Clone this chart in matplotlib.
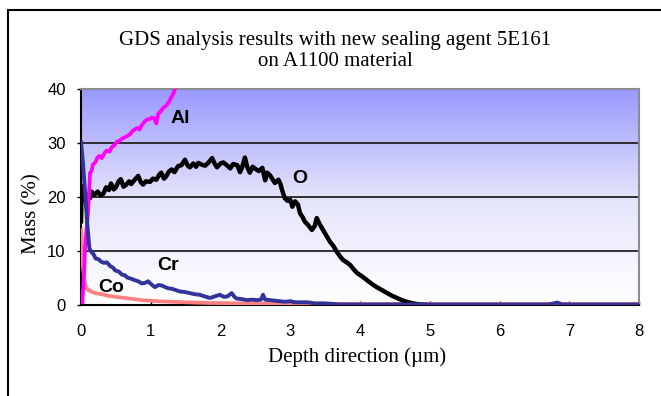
import numpy as np
import matplotlib
matplotlib.use("Agg")
import matplotlib.pyplot as plt
from matplotlib.colors import LinearSegmentedColormap
from matplotlib.patches import Rectangle

# ---- data ----
depth_O = [0.0, 0.01, 0.04, 0.07, 0.1, 0.13, 0.15, 0.19, 0.24, 0.28, 0.32, 0.36, 0.4, 0.43, 0.47,
           0.5, 0.54, 0.57, 0.61, 0.65, 0.69, 0.72, 0.77, 0.82, 0.86, 0.89, 0.93, 0.99, 1.03, 1.08,
           1.12, 1.15, 1.19, 1.22, 1.26, 1.3, 1.34, 1.39, 1.44, 1.49, 1.53, 1.56, 1.61, 1.65, 1.68,
           1.73, 1.78, 1.83, 1.88, 1.92, 1.95, 2.0, 2.04, 2.09, 2.14, 2.18, 2.24, 2.28, 2.31, 2.35,
           2.38, 2.42, 2.46, 2.5, 2.55, 2.6, 2.64, 2.67, 2.71, 2.75, 2.78, 2.83, 2.86, 2.88, 2.92,
           2.96, 3.0, 3.03, 3.07, 3.11, 3.14, 3.18, 3.21, 3.25, 3.31, 3.35, 3.38, 3.42, 3.47, 3.52,
           3.57, 3.62, 3.67, 3.72, 3.76, 3.81, 3.86, 3.91, 3.96, 4.03, 4.1, 4.17, 4.24, 4.31, 4.39,
           4.46, 4.53, 4.6, 4.67, 4.76, 4.85, 4.95]
mass_O = [15.5, 22.0, 20.0, 19.2, 20.5, 19.8, 21.0, 20.4, 21.0, 20.3, 20.6, 21.8, 21.3, 22.5, 21.4,
          21.8, 22.9, 23.3, 21.9, 22.3, 22.9, 22.4, 23.2, 23.9, 22.7, 22.3, 22.9, 22.8, 23.4, 23.2,
          24.1, 24.5, 23.4, 23.8, 24.7, 25.1, 24.6, 25.7, 25.9, 26.9, 25.8, 25.5, 26.2, 25.6, 26.3,
          26.0, 25.8, 26.4, 27.2, 26.1, 25.5, 26.2, 26.4, 25.9, 25.3, 26.1, 25.9, 24.6, 25.5, 27.3,
          25.7, 24.5, 25.6, 25.2, 24.8, 25.4, 23.1, 24.5, 24.0, 23.2, 22.6, 23.2, 22.4, 21.4, 19.8,
          19.3, 19.5, 18.2, 19.2, 18.6, 17.0, 16.2, 15.4, 14.9, 13.9, 14.6, 16.1, 15.0, 13.9, 12.8,
          11.7, 10.9, 9.8, 8.9, 8.3, 7.9, 7.4, 6.6, 5.9, 5.3, 4.6, 3.9, 3.3, 2.8, 2.2,
          1.7, 1.3, 0.9, 0.6, 0.3, 0.1, 0.0]

depth_Cr = [0.0, 0.03, 0.06, 0.09, 0.12, 0.15, 0.18, 0.21, 0.25, 0.29, 0.33, 0.37, 0.42, 0.46, 0.49,
            0.54, 0.59, 0.63, 0.66, 0.71, 0.77, 0.82, 0.87, 0.92, 0.96, 1.01, 1.06, 1.11, 1.16, 1.21,
            1.25, 1.3, 1.35, 1.42, 1.49, 1.56, 1.63, 1.7, 1.77, 1.85, 1.92, 1.99, 2.05, 2.1, 2.16,
            2.2, 2.23, 2.3, 2.38, 2.45, 2.52, 2.58, 2.61, 2.64, 2.71, 2.78, 2.85, 2.92, 3.0, 3.07,
            3.14, 3.25, 3.35, 3.5, 3.7, 4.5, 6.7, 6.83, 6.9, 8.0]
mass_Cr = [30.2, 26.0, 20.5, 15.0, 10.5, 9.8, 9.4, 8.6, 8.5, 8.0, 7.8, 7.9, 7.2, 6.9, 6.4,
           6.2, 5.6, 5.5, 5.1, 4.9, 4.6, 4.4, 4.0, 4.1, 4.4, 3.8, 3.3, 3.7, 3.6, 3.3,
           3.1, 3.0, 2.8, 2.5, 2.4, 2.2, 2.0, 1.9, 1.6, 1.3, 1.6, 1.9, 1.5, 1.6, 2.2,
           1.5, 1.2, 1.1, 0.9, 1.0, 0.9, 1.0, 1.9, 1.0, 0.9, 0.8, 0.7, 0.6, 0.7, 0.5,
           0.5, 0.5, 0.3, 0.3, 0.1, 0.1, 0.1, 0.45, 0.1, 0.1]

depth_Co = [0.0, 0.01, 0.02, 0.03, 0.05, 0.07, 0.1, 0.15, 0.2, 0.3, 0.39, 0.5, 0.63, 0.75, 0.87,
            1.0, 1.1, 1.3, 1.5, 1.75, 2.0, 2.5, 3.0, 4.0, 8.0]
mass_Co = [14.3, 10.0, 8.0, 6.8, 4.5, 3.3, 2.8, 2.5, 2.2, 2.0, 1.7, 1.5, 1.3, 1.1, 0.9,
           0.8, 0.7, 0.6, 0.5, 0.4, 0.35, 0.3, 0.25, 0.2, 0.2]

depth_Al = [0.02, 0.04, 0.06, 0.08, 0.1, 0.12, 0.13, 0.15, 0.17, 0.2, 0.24, 0.27, 0.3, 0.34, 0.37,
            0.41, 0.44, 0.48, 0.51, 0.55, 0.6, 0.65, 0.7, 0.74, 0.77, 0.81, 0.84, 0.87, 0.91, 0.94,
            0.98, 1.01, 1.05, 1.08, 1.11, 1.14, 1.18, 1.22, 1.25, 1.28, 1.3, 1.33, 1.35, 1.38, 1.42]
mass_Al = [0.5, 5.0, 11.0, 14.0, 17.0, 22.0, 24.5, 24.8, 26.0, 26.3, 27.4, 27.6, 27.2, 28.2, 28.6,
           28.4, 29.2, 29.6, 30.2, 30.4, 30.9, 31.2, 31.6, 32.2, 32.5, 32.8, 32.5, 33.3, 33.9, 34.3,
           34.4, 34.7, 34.6, 33.6, 35.5, 35.8, 36.5, 36.9, 37.4, 38.1, 38.6, 39.3, 40.2, 40.5, 41.0]

x_ticks = [0, 1, 2, 3, 4, 5, 6, 7, 8]
y_ticks = [0, 10, 20, 30, 40]

title = "GDS analysis results with new sealing agent 5E161\non A1100 material"

# ---- figure ----
W, H = 661, 396
fig = plt.figure(figsize=(W / 100, H / 100), dpi=100)
fig.patch.set_facecolor("white")

# outer frame (right and bottom edges are cut off in the reference)
fig.patches.append(Rectangle((8 / W, -0.05), 1.1, 1 - 10 / H + 0.05, transform=fig.transFigure,
                             fill=False, edgecolor="black", linewidth=1.5, zorder=0))

ax = fig.add_axes([81 / W, 1 - 305 / H, (639 - 81) / W, (305 - 89) / H])

# gradient background
cmap = LinearSegmentedColormap.from_list("bg", ["#ffffff", "#e4e4fb", "#9999ff"])
grad = np.linspace(0, 1, 256).reshape(-1, 1)
ax.imshow(grad, aspect="auto", cmap=cmap, origin="lower", extent=[0, 8, 0, 40], zorder=0)

for yv in y_ticks[1:-1]:
    ax.axhline(yv, color="#222222", linewidth=1.3, zorder=1)

ax.plot(depth_Co, mass_Co, color="#ff8080", linewidth=2.7, zorder=3, solid_capstyle="butt")
ax.plot(depth_O, mass_O, color="black", linewidth=3.2, zorder=4)
ax.plot(depth_Al, mass_Al, color="#ff00ff", linewidth=2.7, zorder=5)
ax.plot(depth_Cr, mass_Cr, color="#333399", linewidth=2.8, zorder=6)

ax.set_xlim(0, 8)
ax.set_ylim(0, 40)
ax.set_xticks(x_ticks)
ax.set_yticks(y_ticks)
ax.set_xticklabels([str(v) for v in x_ticks], fontsize=12, family="Liberation Sans")
ax.set_yticklabels([str(v) for v in y_ticks], fontsize=12, family="Liberation Sans")
ax.tick_params(axis="x", direction="in", length=3, width=1, pad=14)
ax.tick_params(axis="y", direction="out", length=3, width=1, pad=8)

for s in ("left", "bottom"):
    ax.spines[s].set_color("black")
    ax.spines[s].set_linewidth(1.5)
for s in ("top", "right"):
    ax.spines[s].set_color("#8c8c8c")
    ax.spines[s].set_linewidth(1.5)

ax.set_xlabel("Depth direction (\u00b5m)", family="Liberation Serif", fontsize=15)
ax.xaxis.set_label_coords((357 - 81) / (639 - 81), -(347 - 305) / (305 - 89))
ax.set_ylabel("Mass (%)", family="Liberation Serif", fontsize=15)
ax.yaxis.set_label_coords(-(81 - 41) / (639 - 81), (305 - 214) / (305 - 89))

fig.text(335 / W, 1 - 51 / H, title, ha="center", va="center", family="Liberation Serif",
         fontsize=15, linespacing=1.1)

lab_kw = dict(fontsize=14, fontweight="bold", family="Liberation Sans", ha="center", va="center",
              zorder=7)
ax.text(1.42, 34.6, "Al", **lab_kw)
ax.text(3.13, 23.5, "O", **lab_kw)
ax.text(1.25, 7.4, "Cr", **lab_kw)
ax.text(0.43, 3.3, "Co", **lab_kw)

fig.savefig("out.png", dpi=100, facecolor="white")
